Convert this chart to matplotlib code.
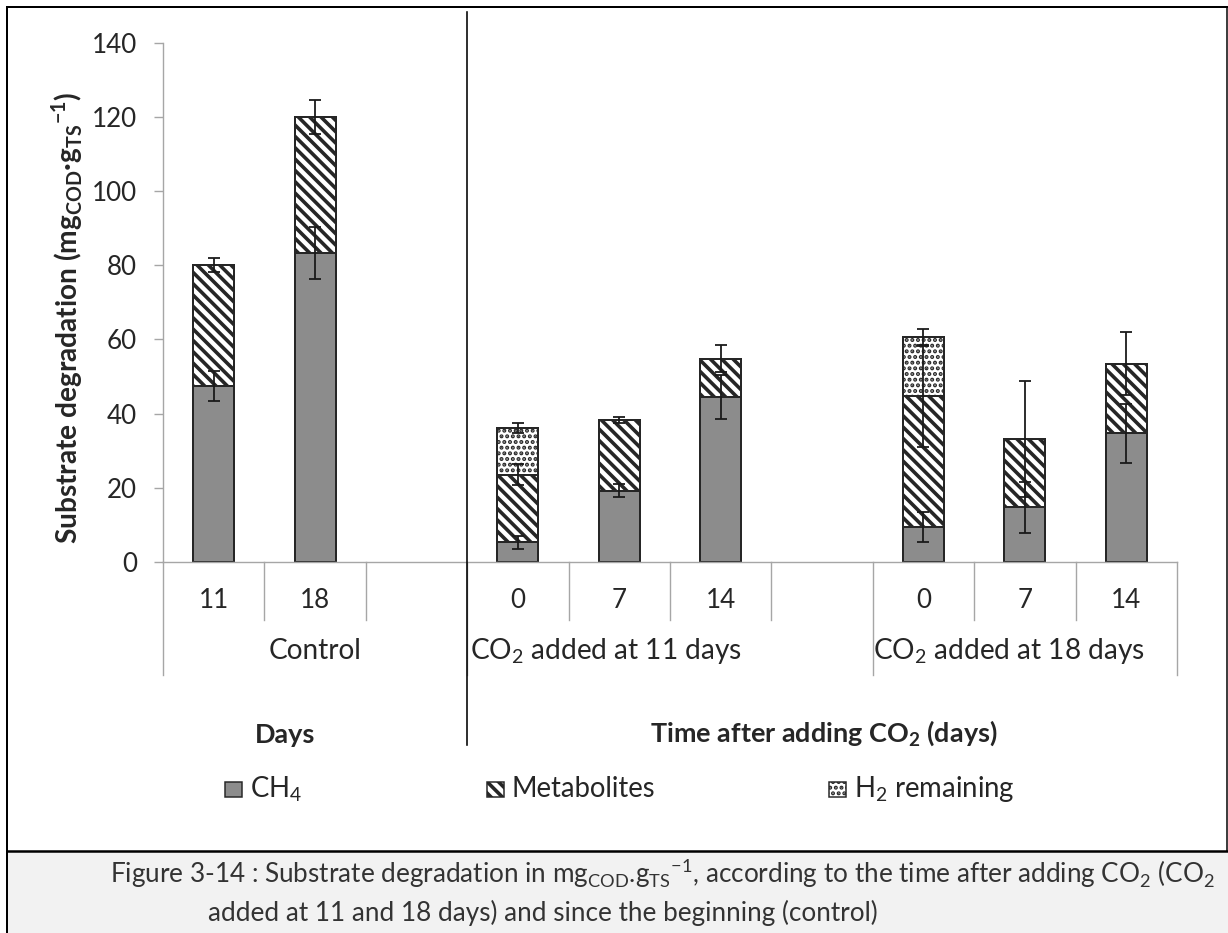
import numpy as np
import matplotlib
matplotlib.use('Agg')
import matplotlib.pyplot as plt
import matplotlib.transforms as mtransforms
from matplotlib.lines import Line2D
from matplotlib.patches import Rectangle

# values (mgCOD.gTS-1)
slot_labels = ['11', '18', '', '0', '7', '14', '', '0', '7', '14']
bar_pos = [0, 1, 3, 4, 5, 7, 8, 9]
ch4 = [47.5, 83.4, 5.3, 19.2, 44.4, 9.5, 14.7, 34.7]
ch4_err = [4.0, 7.0, 1.7, 1.8, 5.9, 4.0, 6.9, 7.9]
metabolites = [32.5, 36.6, 18.2, 19.0, 10.4, 35.2, 18.5, 18.8]
met_err = [1.9, 4.5, 2.8, 0.8, 3.7, 13.6, 15.6, 8.4]
h2 = [0, 0, 12.7, 0, 0, 15.9, 0, 0]
h2_err = [0, 0, 1.4, 0, 0, 2.2, 0, 0]
group_labels = ['Control', 'CO$_\\mathregular{2}$ added at 11 days', 'CO$_\\mathregular{2}$ added at 18 days']
series_labels = ['CH$_\\mathregular{4}$', 'Metabolites', 'H$_\\mathregular{2}$ remaining']

DPI = 68
W, H = 1228, 933

def pt(p):
    return p * 72 / DPI

def fx(x):
    return x / W

def fy(y):
    return 1 - y / H

plt.rcParams['font.family'] = ['Lato', 'DejaVu Sans']
plt.rcParams['mathtext.fontset'] = 'custom'
plt.rcParams['mathtext.rm'] = 'Lato'
plt.rcParams['hatch.linewidth'] = pt(3.6)

txt = '#262626'
edge = '#262626'
grey = '#a6a6a6'

fig = plt.figure(figsize=(W / DPI, H / DPI), dpi=DPI)
ax = fig.add_axes([fx(163), fy(562), fx(1177) - fx(163), fy(42.7) - fy(562)])
ax.set_xlim(-0.5, 9.5)
ax.set_ylim(0, 140)

bw = 0.404
tops2 = np.add(ch4, metabolites)
tops3 = tops2 + np.array(h2)
ax.bar(bar_pos, ch4, width=bw, color='#8c8c8c', edgecolor=edge, linewidth=pt(2), zorder=2)
ax.bar(bar_pos, metabolites, width=bw, bottom=ch4, color='white', edgecolor=edge,
       linewidth=pt(2), hatch='\\\\', zorder=2)
dots = ax.bar(bar_pos, h2, width=bw, bottom=tops2, color='white', edgecolor=edge,
              linewidth=pt(2), hatch='..', zorder=2)
for p in dots:
    if hasattr(p, 'set_hatch_linewidth'):
        p.set_hatch_linewidth(pt(2.8))

for vals, errs in [(ch4, ch4_err), (tops2, met_err), (tops3, h2_err)]:
    m = np.array(errs) > 0
    ax.errorbar(np.array(bar_pos)[m], np.array(vals)[m], yerr=np.array(errs)[m], fmt='none',
                ecolor='#1a1a1a', elinewidth=pt(1.8), capsize=pt(6), capthick=pt(1.8), zorder=5)

for s in ['top', 'right']:
    ax.spines[s].set_visible(False)
for s in ['left', 'bottom']:
    ax.spines[s].set_color(grey)
    ax.spines[s].set_linewidth(pt(1.4))
ax.set_yticks(range(0, 141, 20))
ax.tick_params(axis='y', length=pt(9), width=pt(1.4), color=grey, pad=pt(17),
               labelsize=pt(26), labelcolor=txt)
ax.set_xticks([])

# category axis: separators and labels
trans = mtransforms.blended_transform_factory(ax.transData, fig.transFigure)
for b in np.arange(-0.5, 10, 1.0):
    y_end = 675 if b in (-0.5, 2.5, 6.5, 9.5) else 620
    fig.add_artist(Line2D([b, b], [fy(562), fy(y_end)], transform=trans, color=grey, lw=pt(1.4)))
for i, lab in enumerate(slot_labels):
    ax.text(i, fy(600), lab, transform=trans, ha='center', va='center', fontsize=pt(26), color=txt)
for xc, lab in zip([1.0, 3.87, 7.84], group_labels):
    ax.text(xc, fy(651), lab, transform=trans, ha='center', va='center', fontsize=pt(28), color=txt)

# black separator between control and CO2 parts
fig.add_artist(Line2D([2.5, 2.5], [fy(12), fy(745)], transform=trans, color='black', lw=pt(1.6)))

fig.text(fx(67), fy(318), 'Substrate degradation (mg$_\\mathregular{COD}$·g$_\\mathregular{TS}$$^\\mathregular{-1}$)',
         rotation=90, ha='center', va='center', fontsize=pt(28), fontweight='bold', color=txt)
fig.text(fx(285), fy(735), 'Days', ha='center', va='center', fontsize=pt(27), fontweight='bold', color=txt)
fig.text(fx(824), fy(733), 'Time after adding CO$_\\mathregular{2}$ (days)', ha='center', va='center',
         fontsize=pt(27), fontweight='bold', color=txt)

# legend
leg_x = [225, 487, 829]
leg_styles = [dict(facecolor='#8c8c8c'), dict(facecolor='white', hatch='\\\\'), dict(facecolor='white', hatch='..')]
for x0, lab, st in zip(leg_x, series_labels, leg_styles):
    r = Rectangle((fx(x0), fy(797)), fx(17), 15 / H, transform=fig.transFigure,
                  edgecolor=edge, linewidth=pt(1.5), **st)
    if st.get('hatch') == '..' and hasattr(r, 'set_hatch_linewidth'):
        r.set_hatch_linewidth(pt(2.8))
    fig.add_artist(r)
    fig.text(fx(x0 + 25), fy(789), lab, ha='left', va='center', fontsize=pt(27.5), color=txt)

# frame and caption
fig.add_artist(Rectangle((fx(8), 0), 1, fy(851), transform=fig.transFigure, facecolor='#f2f2f2',
                         edgecolor='none', zorder=0))
fig.add_artist(Line2D([fx(7.3), fx(7.3)], [0, fy(7)], color='black', lw=pt(2)))
fig.add_artist(Line2D([fx(7), 1], [fy(7.3), fy(7.3)], color='black', lw=pt(2)))
fig.add_artist(Line2D([fx(1227), fx(1227)], [fy(7), fy(851)], color='black', lw=pt(1.5)))
fig.add_artist(Line2D([fx(7), 1], [fy(851), fy(851)], color='black', lw=pt(2.5)))
fig.text(fx(110), fy(873), 'Figure 3-14 : Substrate degradation in mg$_\\mathregular{COD}$.g$_\\mathregular{TS}$$^\\mathregular{-1}$, '
         'according to the time after adding CO$_\\mathregular{2}$ (CO$_\\mathregular{2}$',
         ha='left', va='center', fontsize=pt(26.1), color='#333333')
fig.text(fx(208), fy(913), 'added at 11 and 18 days) and since the beginning (control)',
         ha='left', va='center', fontsize=pt(26.1), color='#333333')

fig.savefig('out.png', dpi=DPI)
